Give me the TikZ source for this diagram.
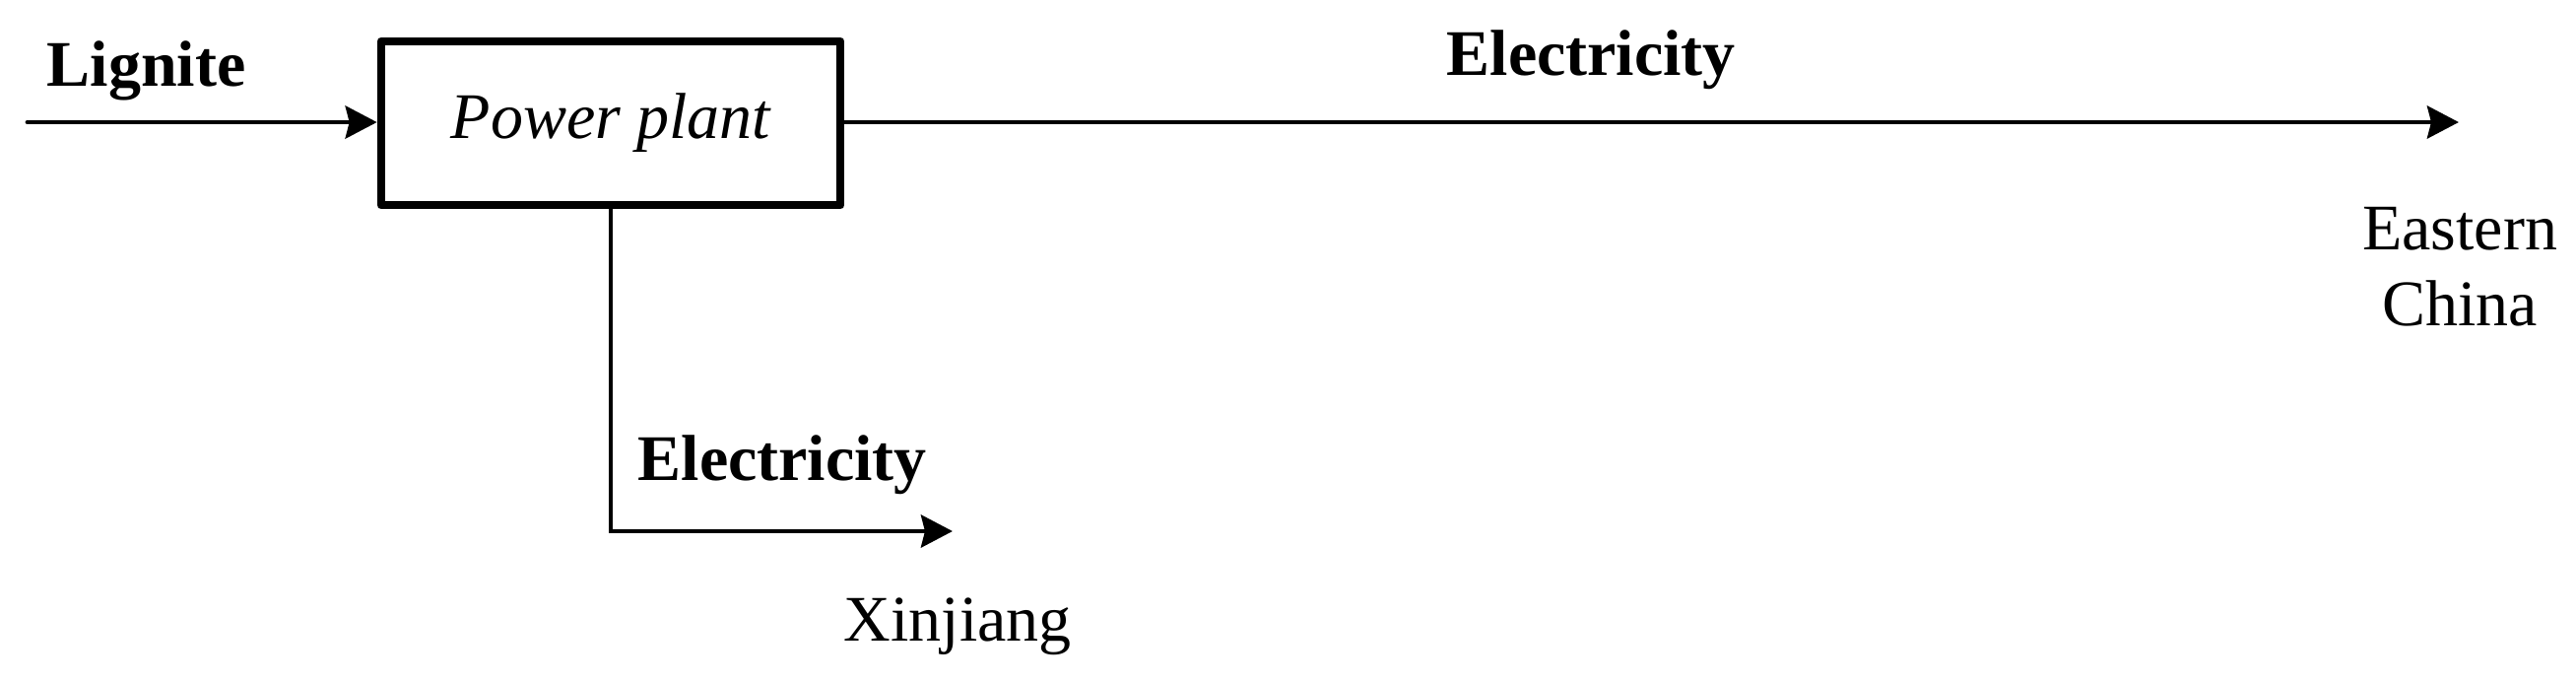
\documentclass[tikz,border=0pt]{standalone}
\usepackage{fontspec}
\setmainfont{Liberation Serif}
\usetikzlibrary{arrows.meta}
\begin{document}
\begin{tikzpicture}[x=0.3pt,y=-0.3pt,
  every node/.style={font=\fontsize{19.8}{23.1}\selectfont},
  lbl/.style={inner sep=0pt,anchor=base west},
  blbl/.style={lbl,font=\fontsize{19.8}{23.1}\selectfont\bfseries},
  plantbox/.style={draw,line width=2.4pt,line join=round,minimum width=140pt,minimum height=50pt,inner sep=0pt,font=\fontsize{19.8}{23.1}\selectfont\itshape},
  flow/.style={line width=1.45pt,line cap=round,-{Stealth[length=9.6pt,width=9.9pt,inset=1.2pt]}}]
\useasboundingbox (0,0) rectangle (2615,691);
\node[plantbox] (pp) at (620,125) {Power plant};
\coordinate (src) at (28,124);
\coordinate (east) at (2496,124);
\coordinate (xin) at (967,539);
\node[blbl] (lig) at (47,87) {Lignite};
\node[blbl] (el1) at (1468,76) {Electricity};
\node[blbl] (el2) at (647,487) {Electricity};
\node[lbl] (xj) at (856,650) {Xinjiang};
\node[inner sep=0pt,anchor=base] (ea) at (2497,253) {Eastern};
\node[inner sep=0pt,anchor=base] (ch) at (2497,330) {China};
\draw[flow] (src) -- (src -| pp.west);
\draw[flow] (pp.east |- east) -- (east);
\draw[flow] (pp.south) |- (xin);
\end{tikzpicture}
\end{document}
